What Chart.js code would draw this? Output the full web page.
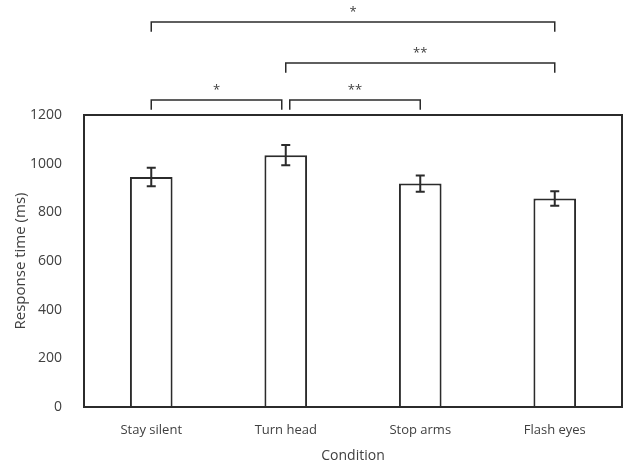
<!DOCTYPE html>
<html>
<head>
<meta charset="utf-8">
<script src="https://cdn.jsdelivr.net/npm/chart.js@4"></script>
<style>
  html, body { margin: 0; padding: 0; background: #fff; }
  #wrap { width: 627px; height: 468px; }
</style>
</head>
<body>
<div id="wrap"><canvas id="rtChart"></canvas></div>
<script>
const conditions = ['Stay silent', 'Turn head', 'Stop arms', 'Flash eyes'];
const meanRT = [945, 1035, 918, 857];
const errRT = [38, 42, 33, 30];
const yTicks = [0, 200, 400, 600, 800, 1000, 1200];
// significance brackets: [from index, to index, label, level in y units]
const sigFrom = [0, 1, 0, 1];
const sigTo = [3, 3, 1, 2];
const sigLabel = ['*', '**', '*', '**'];
const sigLevel = [1582, 1414, 1262, 1262];

const ink = '#2b2b2b';
const textCol = '#404040';

const extras = {
    id: 'extras',
    afterDatasetsDraw(chart) {
        const ctx = chart.ctx;
        const x = chart.scales.x;
        const y = chart.scales.y;
        const area = chart.chartArea;
        ctx.save();
        // plot box
        ctx.strokeStyle = ink;
        ctx.lineWidth = 2;
        ctx.strokeRect(area.left, area.top, area.right - area.left, area.bottom - area.top);

        // error bars
        ctx.lineWidth = 2;
        meanRT.forEach(function(v, i) {
            const cx = x.getPixelForValue(i);
            const top = y.getPixelForValue(v + errRT[i]);
            const bot = y.getPixelForValue(v - errRT[i]);
            ctx.beginPath();
            ctx.moveTo(cx, top); ctx.lineTo(cx, bot);
            ctx.moveTo(cx - 4.5, top); ctx.lineTo(cx + 4.5, top);
            ctx.moveTo(cx - 4.5, bot); ctx.lineTo(cx + 4.5, bot);
            ctx.stroke();
        });

        // brackets
        ctx.lineWidth = 1.5;
        ctx.fillStyle = textCol;
        ctx.font = '13px "Open Sans"';
        ctx.textAlign = 'center';
        ctx.textBaseline = 'bottom';
        sigFrom.forEach(function(a, k) {
            let x1 = x.getPixelForValue(a);
            let x2 = x.getPixelForValue(sigTo[k]);
            // leave a small gap where two brackets meet
            if (k === 2) x2 -= 4;
            if (k === 3) x1 += 4;
            const yy = y.getPixelForValue(sigLevel[k]);
            const drop = y.getPixelForValue(sigLevel[k] - 40) - yy;
            ctx.beginPath();
            ctx.moveTo(x1, yy + drop);
            ctx.lineTo(x1, yy);
            ctx.lineTo(x2, yy);
            ctx.lineTo(x2, yy + drop);
            ctx.stroke();
            ctx.fillText(sigLabel[k], (x1 + x2) / 2, yy - 3);
        });
        ctx.restore();
    }
};

new Chart(document.getElementById('rtChart'), {
    type: 'bar',
    data: {
        labels: conditions,
        datasets: [{
            data: meanRT,
            backgroundColor: '#ffffff',
            borderColor: ink,
            borderWidth: 2,
            categoryPercentage: 1,
            barPercentage: 0.317
        }]
    },
    options: {
        responsive: true,
        maintainAspectRatio: false,
        animation: false,
        layout: {
            padding: { top: 115, right: 5, left: 8, bottom: 0 }
        },
        plugins: {
            legend: { display: false },
            tooltip: { enabled: false }
        },
        scales: {
            x: {
                grid: { display: false },
                border: { display: false },
                afterFit: function(axis) { axis.height = 61; },
                ticks: {
                    color: textCol,
                    font: { family: 'Open Sans', size: 13 },
                    padding: 7
                },
                title: {
                    display: true,
                    text: 'Condition',
                    color: textCol,
                    font: { family: 'Open Sans', size: 14 },
                    padding: { top: 2, bottom: 4 }
                }
            },
            y: {
                min: 0,
                max: 1200,
                afterBuildTicks: function(axis) {
                    axis.ticks = yTicks.map(function(v) { return { value: v }; });
                },
                afterFit: function(axis) { axis.width = 76; },
                grid: { display: false },
                border: { display: false },
                ticks: {
                    color: textCol,
                    font: { family: 'Open Sans', size: 14 },
                    padding: 14,
                    callback: function(value) { return String(value); }
                },
                title: {
                    display: true,
                    text: 'Response time (ms)',
                    color: textCol,
                    font: { family: 'Open Sans', size: 15 },
                    padding: { top: 4, bottom: 4 }
                }
            }
        }
    },
    plugins: [extras]
});
</script>
</body>
</html>
